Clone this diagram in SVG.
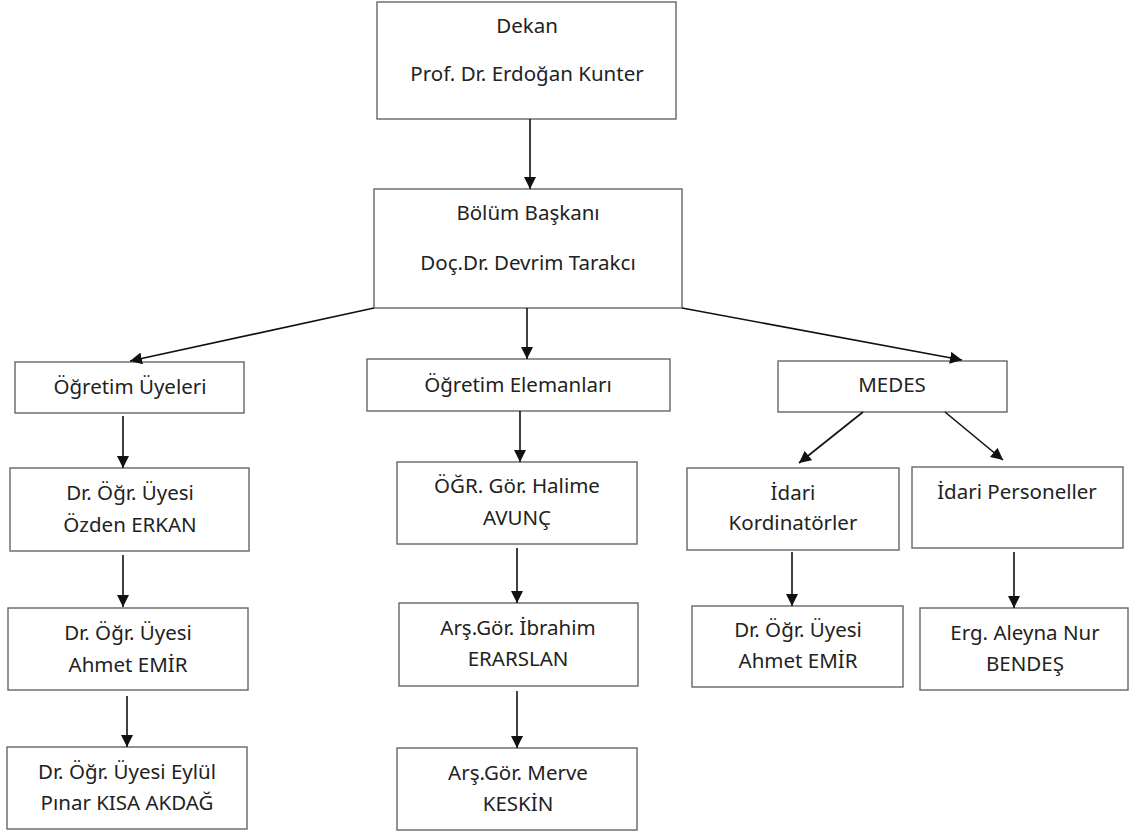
<svg xmlns="http://www.w3.org/2000/svg" width="1129" height="834" viewBox="0 0 1129 834">
<style>
.box{fill:#fff;stroke:#666;stroke-width:1.4}
text{font-family:"Noto Sans","Liberation Sans",sans-serif;font-size:20.5px;fill:#222;text-anchor:middle}
.c line{stroke:#111;stroke-width:1.6;marker-end:url(#ah)}
</style>
<defs>
<marker id="ah" viewBox="0 0 12 12" refX="12" refY="6" markerWidth="12" markerHeight="12" markerUnits="userSpaceOnUse" orient="auto"><path d="M0,0 L12,6 L0,12 z" fill="#111"/></marker>
</defs>
<rect width="1129" height="834" fill="#fff"/>
<g id="dekan"><rect class="box" x="377" y="2" width="299" height="117"/><text x="527" y="33">Dekan</text><text x="527" y="81">Prof. Dr. Erdoğan Kunter</text></g>
<g id="bolum"><rect class="box" x="374" y="189" width="308" height="119"/><text x="528" y="220">Bölüm Başkanı</text><text x="528" y="270">Doç.Dr. Devrim Tarakcı</text></g>
<g id="uyeler"><rect class="box" x="15" y="362" width="229" height="51"/><text x="130" y="394">Öğretim Üyeleri</text></g>
<g id="elemanlar"><rect class="box" x="367" y="359" width="303" height="52"/><text x="518" y="392">Öğretim Elemanları</text></g>
<g id="medes"><rect class="box" x="778" y="361" width="229" height="51"/><text x="892" y="392">MEDES</text></g>
<g id="ozden"><rect class="box" x="10" y="468" width="239" height="83"/><text x="130" y="500">Dr. Öğr. Üyesi</text><text x="130" y="532">Özden ERKAN</text></g>
<g id="halime"><rect class="box" x="397" y="462" width="240" height="82"/><text x="517" y="493">ÖĞR. Gör. Halime</text><text x="517" y="525">AVUNÇ</text></g>
<g id="kordinator"><rect class="box" x="687" y="468" width="212" height="82"/><text x="793" y="500">İdari</text><text x="793" y="530">Kordinatörler</text></g>
<g id="personel"><rect class="box" x="912" y="467" width="211" height="81"/><text x="1017" y="499">İdari Personeller</text></g>
<g id="ahmet1"><rect class="box" x="8" y="608" width="240" height="82"/><text x="128" y="640">Dr. Öğr. Üyesi</text><text x="128" y="672">Ahmet EMİR</text></g>
<g id="ibrahim"><rect class="box" x="399" y="603" width="239" height="83"/><text x="518" y="635">Arş.Gör. İbrahim</text><text x="518" y="666">ERARSLAN</text></g>
<g id="ahmet2"><rect class="box" x="692" y="606" width="211" height="81"/><text x="798" y="637">Dr. Öğr. Üyesi</text><text x="798" y="668">Ahmet EMİR</text></g>
<g id="aleyna"><rect class="box" x="920" y="608" width="208" height="82"/><text x="1025" y="640">Erg. Aleyna Nur</text><text x="1025" y="671">BENDEŞ</text></g>
<g id="eylul"><rect class="box" x="7" y="747" width="240" height="82"/><text x="127" y="779">Dr. Öğr. Üyesi Eylül</text><text x="127" y="810">Pınar KISA AKDAĞ</text></g>
<g id="merve"><rect class="box" x="397" y="748" width="240" height="82"/><text x="518" y="780">Arş.Gör. Merve</text><text x="518" y="811">KESKİN</text></g>
<g class="c" id="connectors">
<line x1="530" y1="119" x2="530" y2="189"/>
<line x1="374" y1="308" x2="130" y2="361"/>
<line x1="527" y1="308" x2="527" y2="359"/>
<line x1="682" y1="308" x2="962" y2="360"/>
<line x1="123" y1="416" x2="123" y2="468"/>
<line x1="123" y1="555" x2="123" y2="607"/>
<line x1="127" y1="696" x2="127" y2="747"/>
<line x1="520" y1="411" x2="520" y2="462"/>
<line x1="517" y1="548" x2="517" y2="603"/>
<line x1="517" y1="691" x2="517" y2="748"/>
<line x1="863" y1="412" x2="799" y2="463"/>
<line x1="945" y1="412" x2="1003" y2="460"/>
<line x1="792" y1="552" x2="792" y2="606"/>
<line x1="1014" y1="552" x2="1014" y2="608"/>
</g>
</svg>
